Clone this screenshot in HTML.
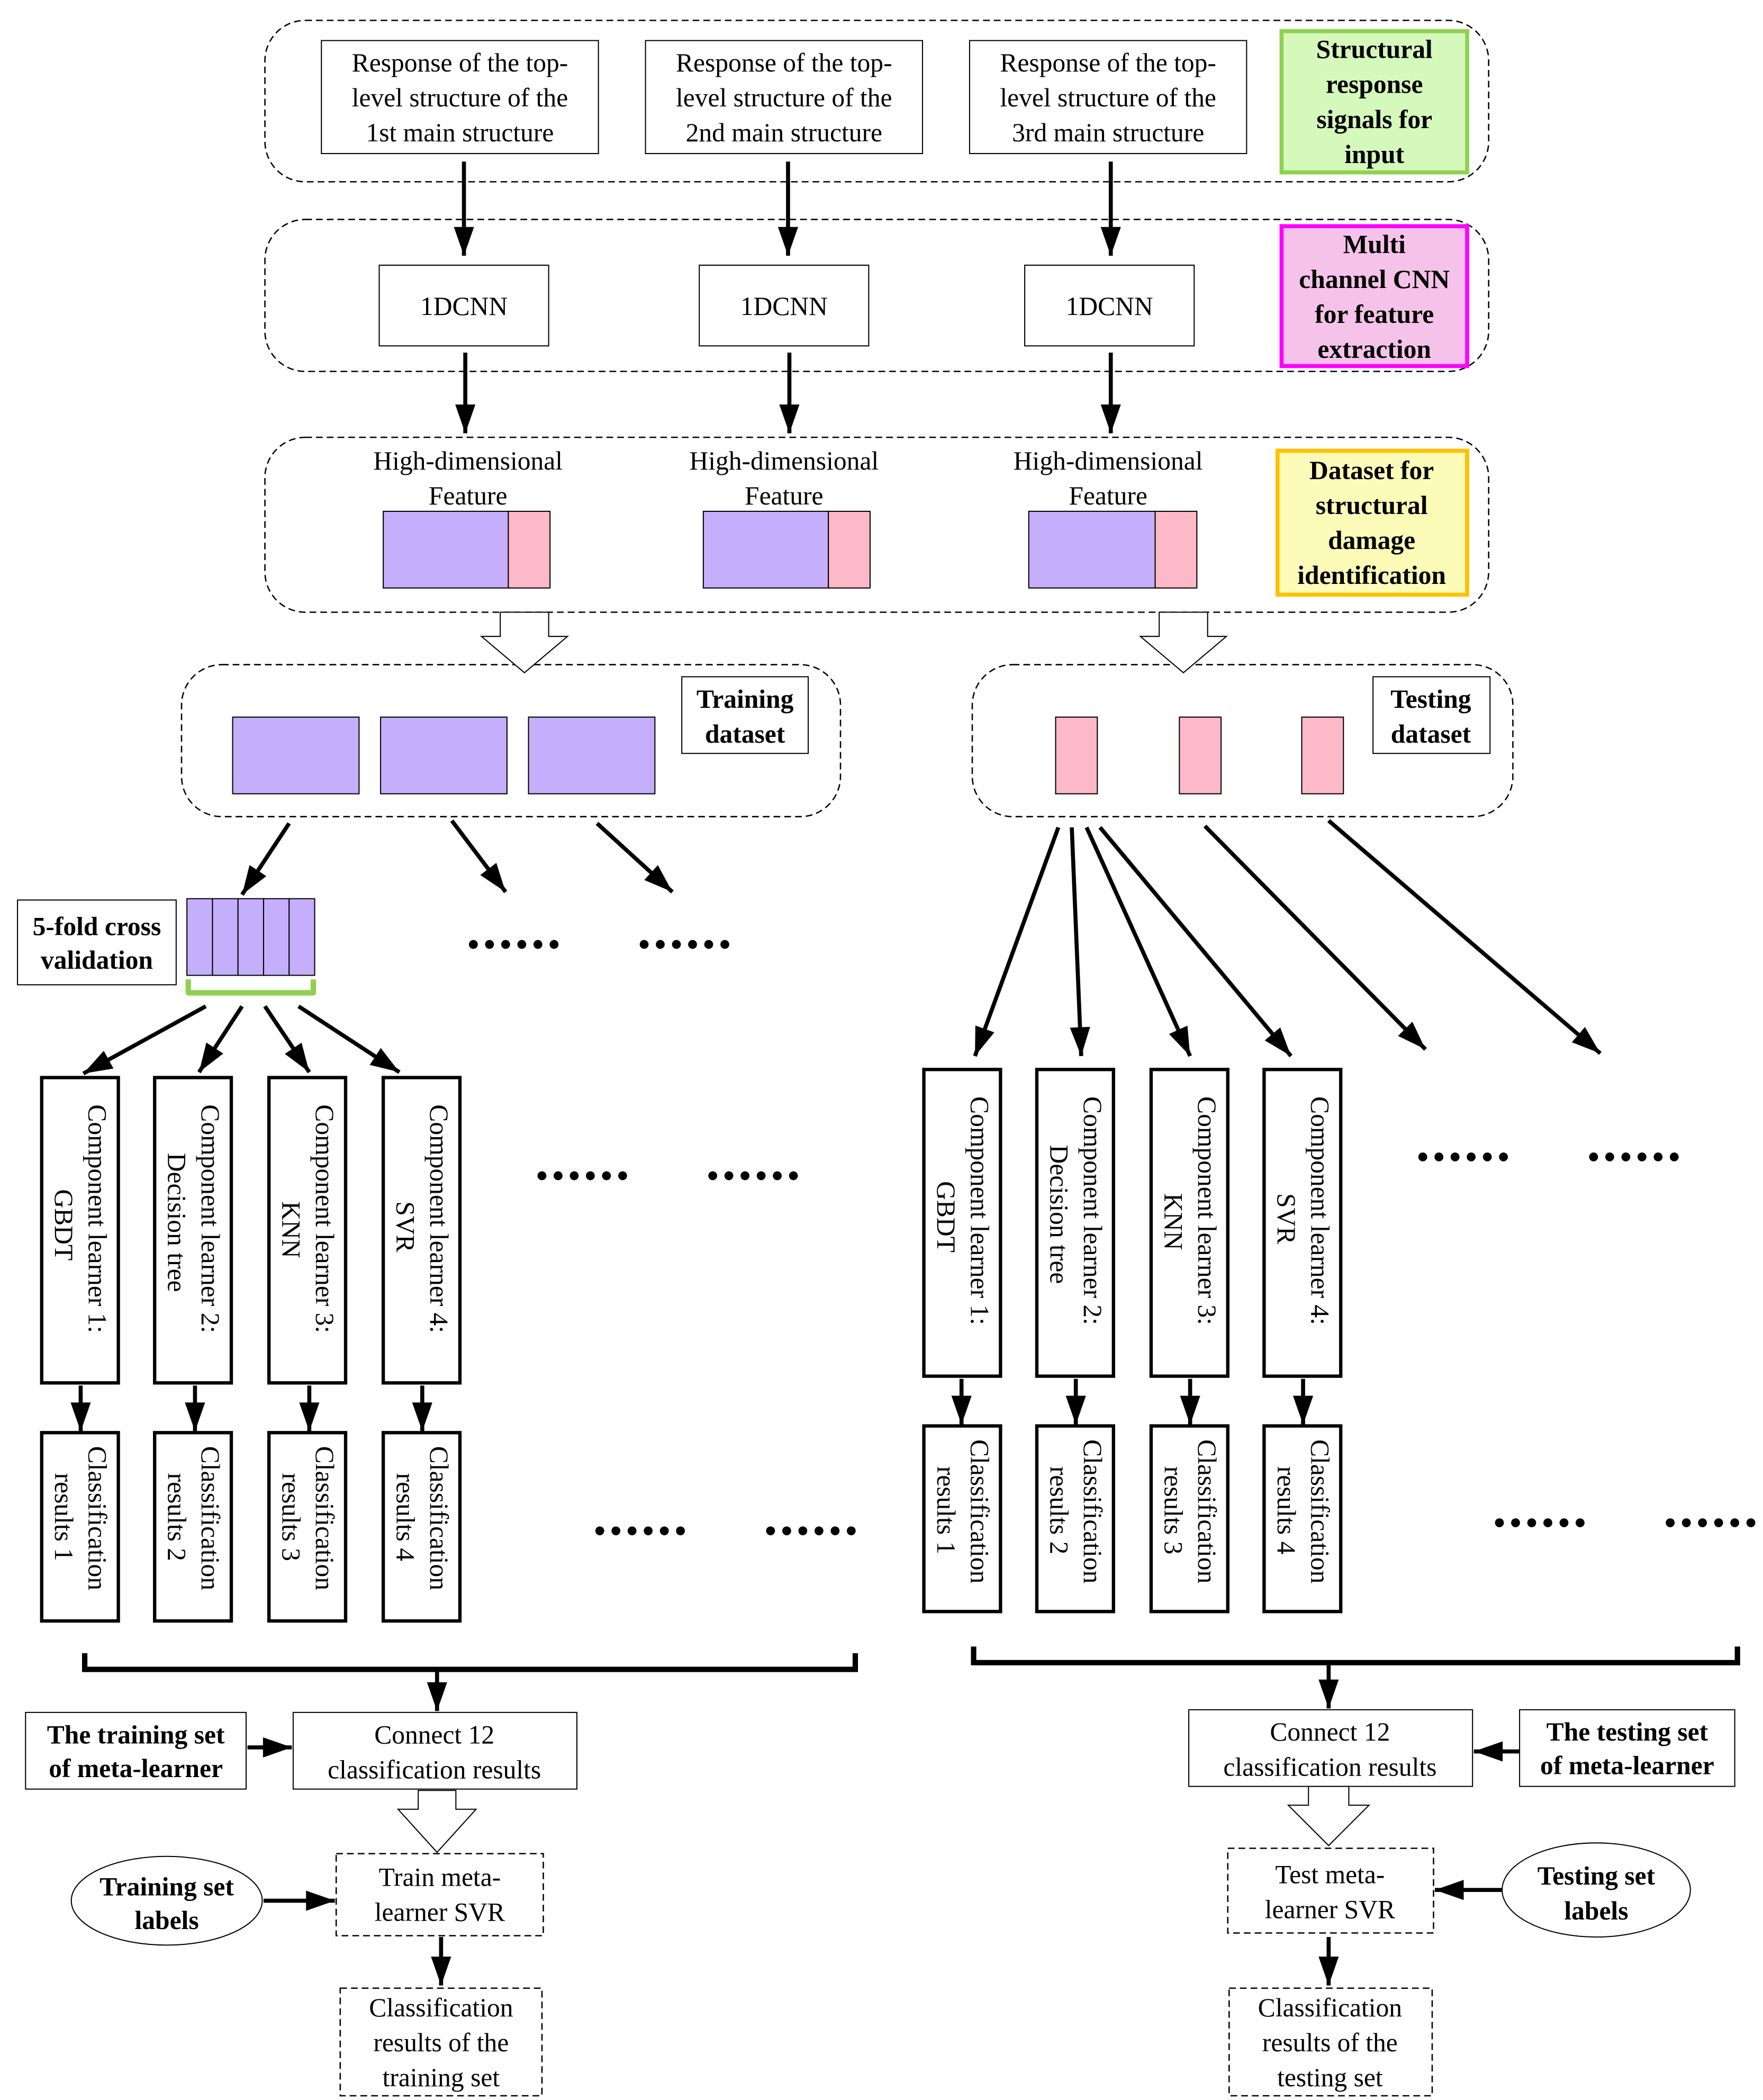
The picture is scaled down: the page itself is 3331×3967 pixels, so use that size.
<!DOCTYPE html>
<html><head><meta charset="utf-8"><style>
html,body{margin:0;padding:0;background:#fff}
svg{display:block}
text{font-family:"Liberation Serif",serif;font-size:19.5px;fill:#000}
.b{font-weight:bold}
</style></head><body>
<svg width="3331" height="3967" viewBox="0 0 1311 1561" xmlns="http://www.w3.org/2000/svg">
<defs>
<marker id="a" viewBox="0 0 20 14" refX="20" refY="7" markerWidth="22" markerHeight="15" orient="auto" markerUnits="userSpaceOnUse"><path d="M0,0 L20,7 L0,14 z" fill="#000"/></marker>
<g id="dots"><circle cx="-30" cy="0" r="3.3"/><circle cx="-18" cy="0" r="3.3"/><circle cx="-6" cy="0" r="3.3"/><circle cx="6" cy="0" r="3.3"/><circle cx="18" cy="0" r="3.3"/><circle cx="30" cy="0" r="3.3"/></g>
</defs>
<g fill="none" stroke="#000" stroke-width="1" stroke-dasharray="5,3">
<rect x="197" y="15" width="910" height="120" rx="30"/>
<rect x="197" y="163" width="910" height="113" rx="30"/>
<rect x="197" y="325" width="910" height="130" rx="30"/>
<rect x="135" y="494" width="490" height="113" rx="30"/>
<rect x="723" y="494" width="402" height="113" rx="30"/>
<rect x="250" y="1378" width="154" height="61"/>
<rect x="253" y="1478" width="150" height="80"/>
<rect x="913" y="1374" width="153" height="63"/>
<rect x="914" y="1478" width="151" height="80"/>
</g>
<g fill="#fff" stroke="#000" stroke-width="0.8">
<rect x="239" y="30" width="206" height="84"/><rect x="480" y="30" width="206" height="84"/><rect x="721" y="30" width="206" height="84"/>
<rect x="282" y="197" width="126" height="60"/><rect x="520" y="197" width="126" height="60"/><rect x="762" y="197" width="126" height="60"/>
<rect x="507" y="503" width="94" height="57"/><rect x="1021" y="503" width="87" height="57"/>
<rect x="13" y="669" width="118" height="63"/>
<rect x="19" y="1273" width="164" height="57"/><rect x="218" y="1273" width="211" height="57"/>
<rect x="884" y="1271" width="211" height="57"/><rect x="1130" y="1271" width="160" height="57"/>
<ellipse cx="124" cy="1413" rx="71" ry="33"/><ellipse cx="1187" cy="1405" rx="70" ry="35"/>
</g>
<rect x="953" y="23" width="138" height="105" fill="#d5f8bb" stroke="#8fd14f" stroke-width="3"/>
<rect x="953" y="168" width="138" height="104" fill="#f5c3e9" stroke="#ff00ff" stroke-width="3"/>
<rect x="950" y="335" width="141" height="107" fill="#fcfbb7" stroke="#ffc000" stroke-width="3"/>
<g stroke="#000" stroke-width="0.8">
<rect x="285" y="380" width="93" height="57" fill="#c5aefc"/><rect x="378" y="380" width="31" height="57" fill="#fdb9c8"/>
<rect x="523" y="380" width="93" height="57" fill="#c5aefc"/><rect x="616" y="380" width="31" height="57" fill="#fdb9c8"/>
<rect x="765" y="380" width="94" height="57" fill="#c5aefc"/><rect x="859" y="380" width="31" height="57" fill="#fdb9c8"/>
<rect x="173" y="533" width="94" height="57" fill="#c5aefc"/><rect x="283" y="533" width="94" height="57" fill="#c5aefc"/><rect x="393" y="533" width="94" height="57" fill="#c5aefc"/>
<rect x="785" y="533" width="31" height="57" fill="#fdb9c8"/><rect x="877" y="533" width="31" height="57" fill="#fdb9c8"/><rect x="968" y="533" width="31" height="57" fill="#fdb9c8"/>
<rect x="139" y="668" width="19" height="57" fill="#c5aefc"/><rect x="158" y="668" width="19" height="57" fill="#c5aefc"/><rect x="177" y="668" width="19" height="57" fill="#c5aefc"/><rect x="196" y="668" width="19" height="57" fill="#c5aefc"/><rect x="215" y="668" width="19" height="57" fill="#c5aefc"/>
</g>
<path d="M140,728 V738 H233 V728" fill="none" stroke="#8fd14f" stroke-width="4" stroke-linejoin="round"/>
<g fill="#fff" stroke="#000" stroke-width="0.8">
<path d="M372,455 H408 V473 H422 L390,500 L358,473 H372 Z"/>
<path d="M862,455 H898 V473 H912 L880,500 L848,473 H862 Z"/>
<path d="M311,1331 H339 V1345 H354 L325,1377 L296,1345 H311 Z"/>
<path d="M973,1328 H1003 V1342 H1018 L988,1372 L958,1342 H973 Z"/>
</g>
<g fill="#fff" stroke="#000" stroke-width="2.5">
<rect x="31" y="801" width="57" height="227"/><rect x="115" y="801" width="57" height="227"/><rect x="200" y="801" width="57" height="227"/><rect x="285" y="801" width="57" height="227"/>
<rect x="31" y="1065" width="57" height="140"/><rect x="115" y="1065" width="57" height="140"/><rect x="200" y="1065" width="57" height="140"/><rect x="285" y="1065" width="57" height="140"/>
<rect x="687" y="795" width="57" height="228"/><rect x="771" y="795" width="57" height="228"/><rect x="856" y="795" width="57" height="228"/><rect x="940" y="795" width="57" height="228"/>
<rect x="687" y="1060" width="57" height="138"/><rect x="771" y="1060" width="57" height="138"/><rect x="856" y="1060" width="57" height="138"/><rect x="940" y="1060" width="57" height="138"/>
</g>
<g fill="none" stroke="#000" stroke-width="4">
<path d="M63,1229 V1241 H636 V1229"/>
<path d="M724,1224 V1236 H1292 V1224"/>
</g>
<g stroke="#000" stroke-width="3" fill="none" marker-end="url(#a)">
<line x1="345" y1="120" x2="345" y2="190"/><line x1="586" y1="120" x2="586" y2="190"/><line x1="826" y1="120" x2="826" y2="190"/>
<line x1="346" y1="262" x2="346" y2="322"/><line x1="587" y1="262" x2="587" y2="322"/><line x1="826" y1="262" x2="826" y2="322"/>
<line x1="215" y1="612" x2="180" y2="665"/><line x1="336" y1="610" x2="376" y2="663"/><line x1="444" y1="612" x2="500" y2="663"/>
<line x1="153" y1="748" x2="62" y2="798"/><line x1="180" y1="748" x2="148" y2="797"/><line x1="197" y1="748" x2="230" y2="797"/><line x1="222" y1="748" x2="297" y2="797"/>
<line x1="60" y1="1030" x2="60" y2="1064"/><line x1="145" y1="1030" x2="145" y2="1064"/><line x1="230" y1="1030" x2="230" y2="1064"/><line x1="314" y1="1030" x2="314" y2="1064"/>
<line x1="787" y1="615" x2="725" y2="785"/><line x1="797" y1="615" x2="804" y2="785"/><line x1="808" y1="615" x2="885" y2="785"/><line x1="818" y1="615" x2="960" y2="785"/><line x1="896" y1="614" x2="1060" y2="780"/><line x1="988" y1="610" x2="1190" y2="783"/>
<line x1="715" y1="1025" x2="715" y2="1059"/><line x1="800" y1="1025" x2="800" y2="1059"/><line x1="885" y1="1025" x2="885" y2="1059"/><line x1="969" y1="1025" x2="969" y2="1059"/>
<line x1="325" y1="1243" x2="325" y2="1272"/><line x1="988" y1="1238" x2="988" y2="1270"/>
<line x1="184" y1="1299" x2="217" y2="1299"/><line x1="1130" y1="1302" x2="1096" y2="1302"/>
<line x1="196" y1="1413" x2="249" y2="1413"/><line x1="1117" y1="1405" x2="1067" y2="1405"/>
<line x1="328" y1="1440" x2="328" y2="1476"/><line x1="988" y1="1440" x2="988" y2="1476"/>
</g>
<g fill="#000">
<use href="#dots" x="382" y="702"/><use href="#dots" x="509" y="702"/>
<use href="#dots" x="433" y="874"/><use href="#dots" x="560" y="874"/>
<use href="#dots" x="476" y="1138"/><use href="#dots" x="603" y="1138"/>
<use href="#dots" x="1088" y="860"/><use href="#dots" x="1215" y="860"/>
<use href="#dots" x="1145" y="1132"/><use href="#dots" x="1272" y="1132"/>
</g>
<g text-anchor="middle">
<text x="342" y="53">Response of the top-</text><text x="342" y="79">level structure of the</text><text x="342" y="105">1st main structure</text>
<text x="583" y="53">Response of the top-</text><text x="583" y="79">level structure of the</text><text x="583" y="105">2nd main structure</text>
<text x="824" y="53">Response of the top-</text><text x="824" y="79">level structure of the</text><text x="824" y="105">3rd main structure</text>
<text class="b" x="1022" y="43">Structural</text><text class="b" x="1022" y="69">response</text><text class="b" x="1022" y="95">signals for</text><text class="b" x="1022" y="121">input</text>
<text class="b" x="1022" y="188">Multi</text><text class="b" x="1022" y="214">channel CNN</text><text class="b" x="1022" y="240">for feature</text><text class="b" x="1022" y="266">extraction</text>
<text class="b" x="1020" y="356">Dataset for</text><text class="b" x="1020" y="382">structural</text><text class="b" x="1020" y="408">damage</text><text class="b" x="1020" y="434">identification</text>
<text class="b" x="554" y="526">Training</text><text class="b" x="554" y="552">dataset</text>
<text class="b" x="1064" y="526">Testing</text><text class="b" x="1064" y="552">dataset</text>
<text class="b" x="72" y="695">5-fold cross</text><text class="b" x="72" y="720">validation</text>
<text class="b" x="101" y="1296">The training set</text><text class="b" x="101" y="1321">of meta-learner</text>
<text class="b" x="1210" y="1294">The testing set</text><text class="b" x="1210" y="1319">of meta-learner</text>
<text class="b" x="124" y="1409">Training set</text><text class="b" x="124" y="1434">labels</text>
<text class="b" x="1187" y="1401">Testing set</text><text class="b" x="1187" y="1427">labels</text>
<text x="345" y="234">1DCNN</text><text x="583" y="234">1DCNN</text><text x="825" y="234">1DCNN</text>
<text x="348" y="349">High-dimensional</text><text x="348" y="375">Feature</text>
<text x="583" y="349">High-dimensional</text><text x="583" y="375">Feature</text>
<text x="824" y="349">High-dimensional</text><text x="824" y="375">Feature</text>
<text x="323" y="1296">Connect 12</text><text x="323" y="1322">classification results</text>
<text x="989" y="1294">Connect 12</text><text x="989" y="1320">classification results</text>
<text x="327" y="1402">Train meta-</text><text x="327" y="1428">learner SVR</text>
<text x="989" y="1400">Test meta-</text><text x="989" y="1426">learner SVR</text>
<text x="328" y="1499">Classification</text><text x="328" y="1525">results of the</text><text x="328" y="1551">training set</text>
<text x="989" y="1499">Classification</text><text x="989" y="1525">results of the</text><text x="989" y="1551">testing set</text>
</g>
<g>
<text transform="translate(66,821) rotate(90)">Component learner 1:</text><text transform="translate(41,884) rotate(90)">GBDT</text>
<text transform="translate(150,821) rotate(90)">Component learner 2:</text><text transform="translate(125,857) rotate(90)">Decision tree</text>
<text transform="translate(235,821) rotate(90)">Component learner 3:</text><text transform="translate(210,893) rotate(90)">KNN</text>
<text transform="translate(320,821) rotate(90)">Component learner 4:</text><text transform="translate(295,893) rotate(90)">SVR</text>
<text transform="translate(66,1075) rotate(90)">Classification</text><text transform="translate(41,1095) rotate(90)">results 1</text>
<text transform="translate(150,1075) rotate(90)">Classification</text><text transform="translate(125,1095) rotate(90)">results 2</text>
<text transform="translate(235,1075) rotate(90)">Classification</text><text transform="translate(210,1095) rotate(90)">results 3</text>
<text transform="translate(320,1075) rotate(90)">Classification</text><text transform="translate(295,1095) rotate(90)">results 4</text>
<text transform="translate(722,815) rotate(90)">Component learner 1:</text><text transform="translate(697,878) rotate(90)">GBDT</text>
<text transform="translate(806,815) rotate(90)">Component learner 2:</text><text transform="translate(781,851) rotate(90)">Decision tree</text>
<text transform="translate(891,815) rotate(90)">Component learner 3:</text><text transform="translate(866,887) rotate(90)">KNN</text>
<text transform="translate(975,815) rotate(90)">Component learner 4:</text><text transform="translate(950,887) rotate(90)">SVR</text>
<text transform="translate(722,1070) rotate(90)">Classification</text><text transform="translate(697,1090) rotate(90)">results 1</text>
<text transform="translate(806,1070) rotate(90)">Classification</text><text transform="translate(781,1090) rotate(90)">results 2</text>
<text transform="translate(891,1070) rotate(90)">Classification</text><text transform="translate(866,1090) rotate(90)">results 3</text>
<text transform="translate(975,1070) rotate(90)">Classification</text><text transform="translate(950,1090) rotate(90)">results 4</text>
</g>
</svg>
</body></html>
